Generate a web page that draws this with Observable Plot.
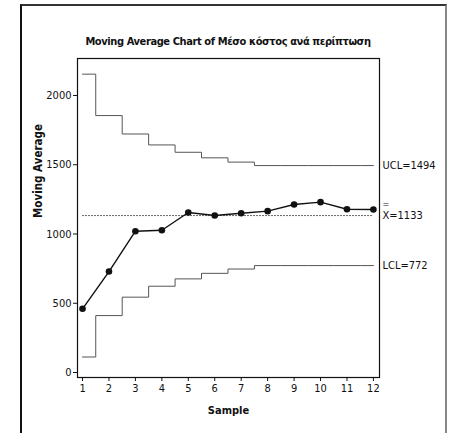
<!DOCTYPE html>
<html>
<head>
<meta charset="utf-8">
<script src="https://cdn.jsdelivr.net/npm/d3@7"></script>
<script src="https://cdn.jsdelivr.net/npm/@observablehq/plot@0.6"></script>
<style>
  html, body { margin: 0; padding: 0; background: #fff; }
  #wrap { position: relative; width: 449px; height: 433px; overflow: hidden;
          font-family: "Liberation Sans Narrow", "DejaVu Sans Condensed", "Arial Narrow", sans-serif; font-stretch: condensed; }
  #box { position: absolute; left: 20px; top: 4px; width: 423px; height: 440px;
         border-left: 2px solid #111; border-top: 2px solid #333; border-right: 2px solid #888; }
  #title { position: absolute; left: 77px; width: 302px; top: 35px; text-align: center;
           font-weight: bold; font-size: 11px; color: #111; white-space: nowrap; letter-spacing: -0.4px; }
  #chart { position: absolute; left: 0; top: 50px; }
</style>
</head>
<body>
<div id="wrap">
  <div id="box"></div>
  <div id="title">Moving Average Chart of Μέσο κόστος ανά περίπτωση</div>
  <div id="chart"></div>
</div>
<script>
const samples   = [1, 2, 3, 4, 5, 6, 7, 8, 9, 10, 11, 12];
const movingAvg = [460, 729, 1020, 1027, 1155, 1134, 1150, 1165, 1213, 1230, 1179, 1177];
const ucl       = [2154, 1855, 1722, 1643, 1590, 1550, 1519, 1494, 1494, 1494, 1494, 1494];
const lcl       = [112, 411, 544, 623, 676, 716, 747, 772, 772, 772, 772, 772];
const centerLine = 1133;
const yTicks = [0, 500, 1000, 1500, 2000];
const limitLabels = [
  {value: 1494, text: "UCL=1494"},
  {value: 1133, text: "X=1133"},
  {value: 772,  text: "LCL=772"}
];
const axisTitles = {x: "Sample", y: "Moving Average"};

const rows = samples.map((s, i) => ({s, ma: movingAvg[i], ucl: ucl[i], lcl: lcl[i]}));
const font = '"Liberation Sans Narrow", "DejaVu Sans Condensed", "Arial Narrow", sans-serif';

const chart = Plot.plot({
  width: 449,
  height: 383,
  marginLeft: 77,
  marginRight: 70,
  marginTop: 8,
  marginBottom: 56,
  style: {fontFamily: font, fontSize: "11px", color: "#111", background: "transparent"},
  x: {domain: [0.81, 12.23], label: null},
  y: {domain: [-36, 2267], label: null},
  marks: [
    Plot.frame({stroke: "#111", strokeWidth: 1.2}),
    Plot.ruleY([centerLine], {x1: 1, x2: 12, stroke: "#666", strokeWidth: 1, strokeDasharray: "2,1"}),
    Plot.line(rows, {x: "s", y: "ucl", curve: "step", stroke: "#555", strokeWidth: 1}),
    Plot.line(rows, {x: "s", y: "lcl", curve: "step", stroke: "#555", strokeWidth: 1}),
    Plot.line(rows, {x: "s", y: "ma", stroke: "#111", strokeWidth: 1.4}),
    Plot.dot(rows, {x: "s", y: "ma", r: 3.3, fill: "#111", stroke: "none"}),
    Plot.axisX({ticks: samples, tickFormat: d => String(d), tickSize: 4, tickPadding: 3, label: null, fontSize: 11}),
    Plot.axisY({ticks: yTicks, tickFormat: d => String(d), tickSize: 4, tickPadding: 2, label: null, fontSize: 11}),
    Plot.text(limitLabels, {x: 12.23, y: "value", text: "text", textAnchor: "start", dx: 3, fontSize: 11, fill: "#111"}),
    Plot.text([limitLabels[1]], {x: 12.23, y: "value", text: () => "=", textAnchor: "start", dx: 3, dy: -11, fontSize: 9, fill: "#111"}),
    Plot.text([axisTitles.x], {frameAnchor: "bottom", text: d => d, dy: 36, fontWeight: "bold", fontSize: 11}),
    Plot.text([axisTitles.y], {frameAnchor: "left", text: d => d, rotate: -90, dx: -39, fontWeight: "bold", fontSize: 11.5})
  ]
});
document.getElementById("chart").appendChild(chart);
</script>
</body>
</html>
